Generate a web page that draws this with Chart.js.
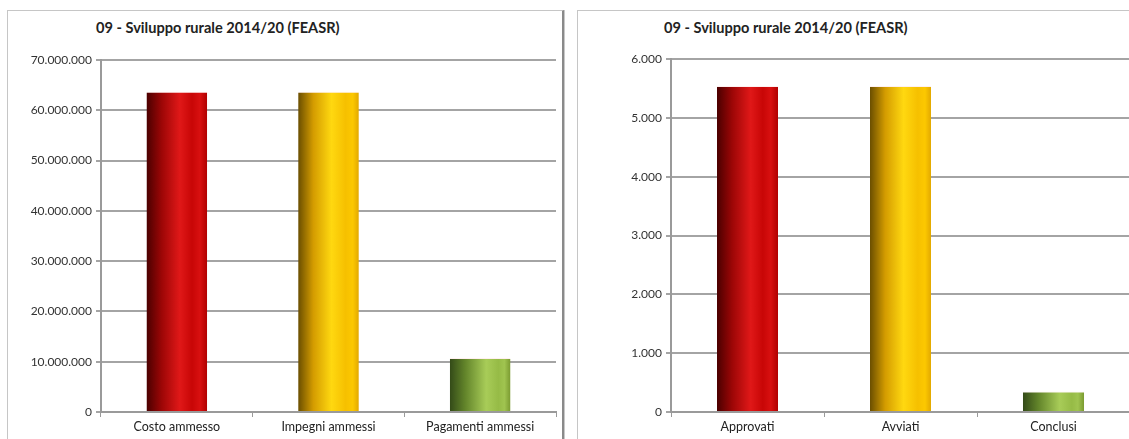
<!DOCTYPE html>
<html lang="it">
<head>
<meta charset="utf-8">
<title>09 - Sviluppo rurale 2014/20 (FEASR)</title>
<script src="https://cdn.jsdelivr.net/npm/chart.js@4/dist/chart.umd.min.js"></script>
<style>
  html, body { margin: 0; padding: 0; background: #fff; overflow: hidden; }
  body { width: 1129px; height: 439px; position: relative; font-family: Lato, "Open Sans", sans-serif; }
  .pannello { position: absolute; top: 10px; height: 440px; background: #fff; border-left: 1px solid #c6c6c6; border-top: 1px solid #c6c6c6; }
  #pannello-sx { left: 7px; width: 554px; border-right: 2px solid #8a8a8a; box-shadow: 1px 0 0 #c8c8c8; }
  #pannello-dx { left: 577px; width: 600px; }
  .titolo { position: absolute; top: 8px; font-size: 14.6px; font-weight: bold; color: #222; white-space: nowrap; }
  #pannello-sx .titolo { left: 88px; }
  #pannello-dx .titolo { left: 86px; }
  .area { position: absolute; left: 0; top: 30px; }
</style>
</head>
<body>
<div class="pannello" id="pannello-sx">
  <div class="titolo">09 - Sviluppo rurale 2014/20 (FEASR)</div>
  <div class="area" style="width:552px;height:399px"><canvas id="grafico-costi"></canvas></div>
</div>
<div class="pannello" id="pannello-dx">
  <div class="titolo">09 - Sviluppo rurale 2014/20 (FEASR)</div>
  <div class="area" style="width:562px;height:399px"><canvas id="grafico-progetti"></canvas></div>
</div>
<script>
// Dati (valori stimati)
var vociCosti = ['Costo ammesso', 'Impegni ammessi', 'Pagamenti ammessi'];
var valoriCosti = [63700000, 63700000, 10750000];
var maxCosti = 70000000;
var passoCosti = 10000000;

var vociProgetti = ['Approvati', 'Avviati', 'Conclusi'];
var valoriProgetti = [5540, 5540, 350];
var maxProgetti = 6000;
var passoProgetti = 1000;

var BAR_PCT = 0.4;

// sfumature "a cilindro" come nell'originale Excel
var sfumature = [
  [[0, '#4a0000'], [0.25, '#9c0606'], [0.55, '#e01818'], [0.75, '#c80606'], [0.88, '#d81010'], [1, '#b00000']],
  [[0, '#6a4e00'], [0.25, '#d49c00'], [0.55, '#ffd810'], [0.78, '#f6c000'], [0.9, '#fcc800'], [1, '#e2a800']],
  [[0, '#334a18'], [0.25, '#62842a'], [0.6, '#a8cc58'], [0.8, '#96bb46'], [0.9, '#a0c450'], [1, '#7a9a30']],
];

function fmtPunti(v) {
  return String(v).replace(/\B(?=(\d{3})+(?!\d))/g, '.');
}

function cilindro(ctx) {
  var chart = ctx.chart;
  var stops = sfumature[ctx.dataIndex % 3];
  if (!chart.chartArea || ctx.dataIndex == null) return stops[2][1];
  var xs = chart.scales.x;
  var cx = xs.getPixelForValue(ctx.dataIndex);
  var w = xs.width / xs.ticks.length * BAR_PCT;
  var g = chart.ctx.createLinearGradient(cx - w / 2, 0, cx + w / 2, 0);
  stops.forEach(function (s) { g.addColorStop(s[0], s[1]); });
  return g;
}

function opzioni(max, passo, larghezzaY, padSu, padDx) {
  return {
    responsive: true,
    maintainAspectRatio: false,
    animation: false,
    layout: { padding: { top: padSu, right: padDx, bottom: 0, left: 0 } },
    plugins: { legend: { display: false }, title: { display: false }, tooltip: { enabled: false } },
    scales: {
      x: {
        offset: true,
        grid: { display: true, drawOnChartArea: false, color: '#9a9a9a', lineWidth: 1, tickLength: 5, offset: true },
        border: { color: '#9a9a9a', width: 2 },
        ticks: { color: '#222', font: { family: 'Lato', size: 12.5 }, padding: 2, maxRotation: 0 },
        afterFit: function (s) { s.height = 28; },
      },
      y: {
        min: 0, max: max,
        grid: { color: '#a4a4a4', lineWidth: 2, tickLength: 5 },
        border: { color: '#9a9a9a', width: 2 },
        ticks: { stepSize: passo, color: '#333', font: { family: 'Lato', size: 12 }, padding: 4, callback: function (v) { return fmtPunti(v); } },
        afterFit: function (s) { s.width = larghezzaY; },
      },
    },
  };
}

function grafico(id, voci, valori, opts) {
  new Chart(document.getElementById(id).getContext('2d'), {
    type: 'bar',
    data: {
      labels: voci,
      datasets: [{
        data: valori,
        backgroundColor: cilindro,
        borderColor: 'rgba(255,230,230,0.6)',
        borderWidth: { top: 1, left: 0, right: 0, bottom: 0 },
        barPercentage: 0.5,
        categoryPercentage: 0.8,
      }],
    },
    options: opts,
  });
}

grafico('grafico-costi', vociCosti, valoriCosti, opzioni(maxCosti, passoCosti, 93, 19, 4));
grafico('grafico-progetti', vociProgetti, valoriProgetti, opzioni(maxProgetti, passoProgetti, 93, 18, 10));
</script>
</body>
</html>
